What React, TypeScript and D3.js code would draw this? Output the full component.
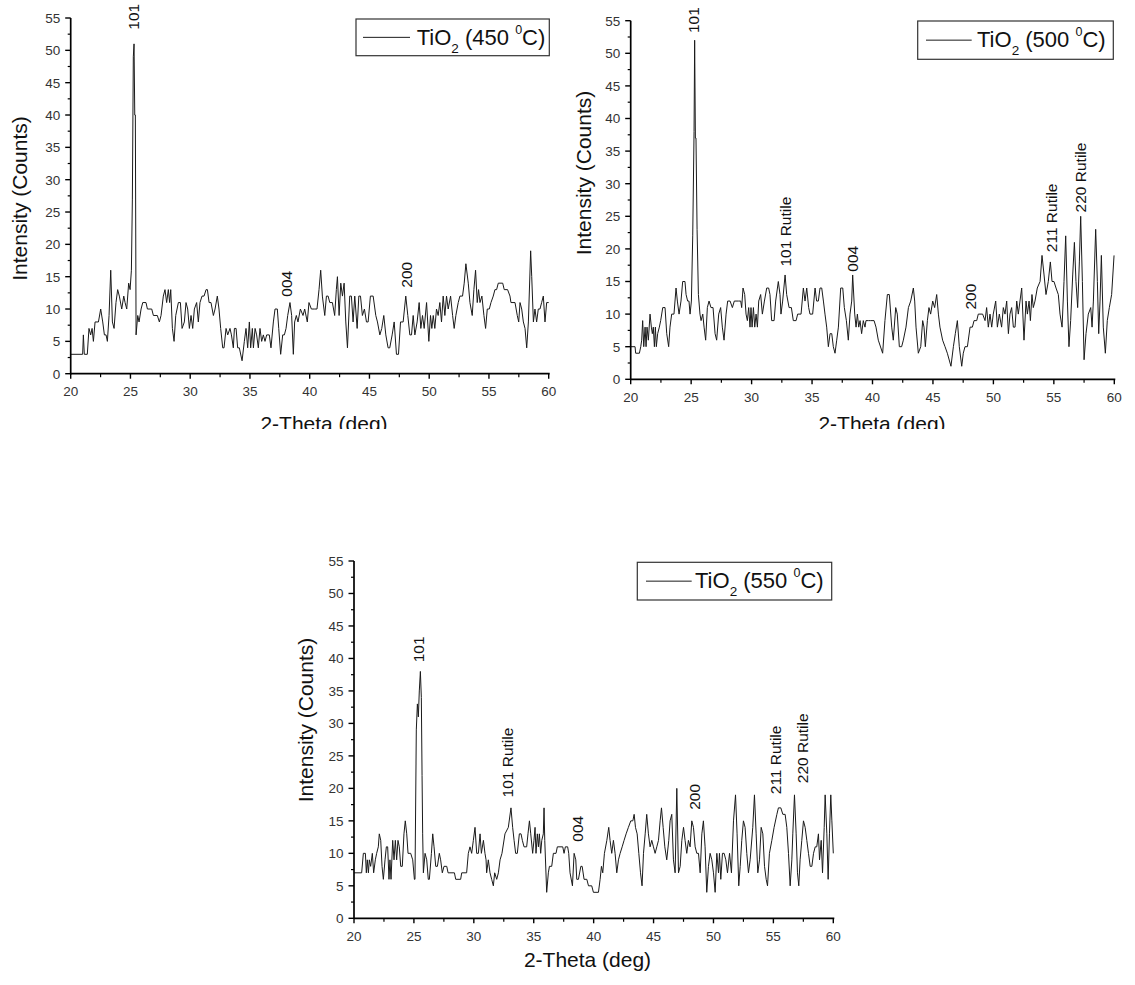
import React from "react";
import * as d3 from "d3";

// ---------- DATA ----------
const xTicks = [20, 25, 30, 35, 40, 45, 50, 55, 60];
const yTicks = [0, 5, 10, 15, 20, 25, 30, 35, 40, 45, 50, 55];

// Panel 1: TiO2 450 °C
const theta450 = [20.00,21.00,21.06,21.14,21.39,21.53,21.67,21.79,21.90,22.04,22.32,22.51,22.68,22.82,22.96,23.07,23.21,23.35,23.49,23.63,23.79,23.93,24.07,24.27,24.44,24.55,24.69,24.85,24.97,25.08,25.16,25.24,25.30,25.36,25.41,25.47,25.61,25.72,25.89,26.03,26.30,26.42,26.78,26.92,27.25,27.42,27.56,27.75,27.89,28.03,28.17,28.28,28.37,28.51,28.65,28.79,29.01,29.18,29.32,29.51,29.65,29.79,29.93,30.07,30.21,30.35,30.54,30.68,30.82,30.99,31.16,31.33,31.44,31.58,31.74,31.94,32.08,32.27,32.41,32.55,32.72,32.83,33.00,33.14,33.33,33.45,33.61,33.70,33.84,33.97,34.11,34.34,34.53,34.67,34.81,34.95,35.06,35.20,35.29,35.43,35.56,35.70,35.84,35.98,36.12,36.26,36.40,36.62,36.76,36.96,37.10,37.29,37.41,37.57,37.74,37.88,38.02,38.16,38.35,38.49,38.63,38.74,38.88,39.02,39.22,39.44,39.58,39.80,39.94,40.14,40.42,40.61,40.78,40.92,41.06,41.26,41.40,41.54,41.68,41.90,42.09,42.23,42.32,42.46,42.60,42.74,42.88,43.02,43.16,43.35,43.49,43.63,43.77,43.97,44.11,44.25,44.41,44.58,44.75,44.89,45.08,45.31,45.53,45.67,45.87,46.03,46.20,46.37,46.56,46.70,46.90,47.07,47.26,47.43,47.60,47.82,48.04,48.21,48.38,48.52,48.66,48.80,48.99,49.16,49.30,49.44,49.58,49.78,49.97,50.11,50.22,50.34,50.47,50.61,50.75,50.89,51.03,51.17,51.31,51.45,51.59,51.79,51.96,52.09,52.23,52.43,52.57,52.79,52.93,53.07,53.27,53.41,53.60,53.74,53.88,54.02,54.13,54.25,54.41,54.58,54.72,54.86,55.03,55.17,55.36,55.50,55.64,55.78,56.15,56.28,56.56,56.76,56.84,57.18,57.37,57.49,57.60,57.74,57.88,58.02,58.16,58.30,58.49,58.58,58.72,58.85,58.99,59.13,59.27,59.41,59.55,59.69,59.83,60.00];
const counts450 = [3,3,6,3,3,7,6,7,5,8,8,10,8,6,6,5,9,16,8,7,11,13,12,10,12,11,10,14,13,16,27,49,51,40,40,6,9,8,10,11,11,10,10,9,9,8,9,12,13,11,13,11,13,7,5,9,11,11,7,8,11,10,7,9,7,10,11,8,11,12,12,13,13,11,11,9,10,12,10,7,4,4,7,6,7,6,4,7,7,4,4,2,5,7,4,8,4,7,4,7,6,4,7,5,6,5,6,6,4,8,10,10,7,3,6,6,7,9,11,9,3,8,9,8,10,9,10,8,11,10,10,10,13,16,12,9,12,12,11,11,9,13,15,9,14,12,14,8,4,12,12,8,12,7,12,12,9,10,8,8,12,12,9,8,6,7,9,6,4,4,6,8,3,3,8,8,12,9,6,6,9,6,8,11,7,9,7,11,5,9,7,9,7,10,9,11,8,12,9,12,10,12,9,7,9,11,12,12,14,17,14,11,9,13,16,11,13,11,12,9,7,10,10,11,12,13,13,14,14,13,13,12,11,11,9,8,11,10,8,7,4,8,19,15,8,10,8,10,10,11,12,8,11,11];

// Panel 2: TiO2 500 °C
const theta500 = [20.00,20.36,20.41,20.72,20.83,20.91,20.99,21.08,21.19,21.27,21.35,21.46,21.60,21.71,21.79,21.87,21.96,22.04,22.12,22.23,22.37,22.48,22.65,22.84,22.98,23.14,23.25,23.39,23.58,23.75,23.86,24.00,24.16,24.30,24.49,24.58,24.71,24.82,24.91,25.02,25.13,25.24,25.29,25.35,25.40,25.49,25.60,25.73,25.82,25.96,26.07,26.20,26.34,26.48,26.64,26.81,26.98,27.11,27.28,27.44,27.58,27.72,27.89,28.02,28.22,28.41,28.57,28.71,28.91,29.10,29.18,29.29,29.43,29.54,29.65,29.76,29.87,29.95,30.04,30.15,30.26,30.37,30.48,30.59,30.75,30.89,31.06,31.25,31.41,31.52,31.66,31.86,31.99,32.21,32.35,32.43,32.57,32.77,32.90,33.10,33.29,33.45,33.68,33.81,34.09,34.28,34.42,34.56,34.72,34.83,35.05,35.25,35.38,35.52,35.66,35.80,35.94,36.07,36.21,36.35,36.49,36.63,36.76,36.90,37.04,37.18,37.37,37.54,37.67,37.84,38.00,38.14,38.28,38.36,38.53,38.64,38.75,38.86,38.97,39.10,39.24,39.38,39.46,39.66,39.85,40.13,40.29,40.48,40.84,41.03,41.23,41.39,41.59,41.72,41.92,42.05,42.22,42.41,42.55,42.77,42.97,43.16,43.38,43.49,43.60,43.79,43.99,44.15,44.26,44.37,44.54,44.67,44.81,44.98,45.14,45.31,45.45,45.58,45.80,46.00,46.19,46.49,46.69,46.85,47.02,47.18,47.38,47.51,47.65,47.85,48.07,48.26,48.40,48.62,48.75,49.11,49.31,49.44,49.58,49.72,49.86,49.99,50.19,50.33,50.49,50.68,50.82,50.96,51.10,51.24,51.37,51.51,51.65,51.79,51.93,52.06,52.20,52.34,52.53,52.70,52.81,52.95,53.06,53.19,53.30,53.44,53.63,53.86,54.02,54.19,54.35,54.54,54.71,54.85,55.01,55.18,55.37,55.51,55.68,55.84,55.98,56.12,56.25,56.39,56.56,56.70,56.83,56.97,57.11,57.22,57.36,57.50,57.66,57.85,58.05,58.16,58.27,58.46,58.60,58.71,58.82,58.93,59.09,59.26,59.42,59.59,59.78,59.98];
const counts500 = [5,5,4,4,5,6,9,5,8,5,8,6,10,8,7,8,5,8,5,7,8,9,11,11,7,5,8,10,10,14,12,10,12,15,15,13,12,12,10,12,22,38,52,37,37,23,13,10,9,10,8,6,11,12,11,11,7,6,10,11,8,6,10,12,12,11,12,12,12,12,11,14,13,10,9,11,8,11,8,11,8,10,8,12,13,10,12,14,14,13,9,9,12,15,13,10,12,16,13,11,11,9,9,10,10,14,12,14,11,10,10,14,12,12,14,14,12,10,8,5,7,7,5,4,6,8,14,14,11,9,6,10,12,16,10,8,10,8,9,7,9,8,9,9,9,9,8,6,4,9,13,13,8,6,11,10,5,5,6,8,11,12,14,12,8,4,5,9,8,5,9,11,10,12,11,13,10,8,6,5,4,2,5,7,9,5,2,4,5,5,8,8,9,9,10,10,9,11,8,10,8,10,12,8,10,8,11,10,12,7,10,11,8,8,12,10,12,14,6,12,10,12,9,13,11,12,14,15,19,16,13,15,18,15,15,14,13,10,8,15,22,12,5,9,16,21,15,11,18,25,15,3,7,10,11,8,12,23,15,7,12,19,8,4,9,11,13,19];

// Panel 3: TiO2 550 °C
const theta550 = [20.00,20.64,20.78,20.95,21.03,21.11,21.20,21.28,21.39,21.53,21.64,21.78,21.89,22.03,22.11,22.23,22.34,22.45,22.59,22.70,22.81,22.92,23.00,23.09,23.23,23.34,23.45,23.56,23.67,23.78,23.90,24.03,24.17,24.28,24.40,24.51,24.73,24.90,25.04,25.09,25.20,25.29,25.37,25.45,25.54,25.62,25.68,25.73,25.79,25.93,26.07,26.20,26.29,26.46,26.57,26.68,26.82,26.96,27.12,27.23,27.37,27.51,27.74,27.85,28.38,28.49,28.90,28.99,29.40,29.54,29.68,29.82,29.96,30.10,30.24,30.38,30.52,30.63,30.80,30.93,31.02,31.07,31.21,31.35,31.49,31.63,31.74,31.91,32.05,32.19,32.35,32.60,32.88,33.10,33.24,33.36,33.49,33.63,33.80,33.94,34.05,34.19,34.41,34.52,34.64,34.75,34.91,35.02,35.11,35.19,35.30,35.39,35.47,35.58,35.67,35.80,35.86,35.92,36.08,36.22,36.31,36.50,36.64,36.86,36.97,37.42,37.53,37.64,37.83,37.92,38.03,38.23,38.37,38.51,38.59,38.73,38.93,39.04,39.20,39.43,39.57,39.84,39.98,40.40,40.54,40.65,40.76,40.90,41.10,41.26,41.37,41.51,41.65,41.79,41.93,42.07,42.21,42.38,42.54,42.71,42.90,43.10,43.27,43.38,43.49,43.63,43.77,43.91,44.04,44.16,44.30,44.43,44.57,44.71,44.85,44.99,45.13,45.27,45.41,45.55,45.66,45.80,45.94,46.10,46.27,46.38,46.52,46.66,46.80,46.94,47.08,47.22,47.36,47.50,47.63,47.77,47.91,48.05,48.19,48.33,48.47,48.61,48.75,48.89,49.03,49.16,49.30,49.44,49.58,49.72,49.86,50.00,50.14,50.28,50.42,50.50,50.61,50.75,50.89,51.03,51.17,51.34,51.50,51.67,51.84,51.97,52.11,52.23,52.36,52.50,52.64,52.78,52.92,53.06,53.28,53.42,53.56,53.70,53.84,53.98,54.12,54.26,54.40,54.51,54.67,54.87,55.06,55.29,55.42,55.62,55.79,55.98,56.12,56.26,56.40,56.54,56.62,56.76,56.90,57.01,57.12,57.23,57.37,57.51,57.65,57.79,57.93,58.07,58.21,58.35,58.49,58.62,58.76,58.85,58.99,59.10,59.24,59.32,59.46,59.57,59.68,59.79,59.88,60.00];
const counts550 = [7,7,10,10,7,9,7,9,8,10,7,9,10,11,13,12,8,6,9,11,11,6,9,6,12,9,12,9,12,11,8,8,13,15,13,10,10,9,6,6,29,33,31,35,38,34,22,13,7,10,9,6,6,10,13,11,8,8,10,9,7,8,8,7,7,6,6,7,7,10,11,10,12,14,10,10,13,10,12,10,9,7,9,7,6,5,7,6,7,9,10,13,14,17,14,12,10,10,13,13,12,11,11,13,15,13,10,12,14,10,13,11,13,10,12,13,17,12,4,7,8,8,10,10,11,11,10,11,11,10,7,5,10,9,6,6,8,8,6,6,5,5,4,4,6,8,7,10,12,14,12,10,12,10,7,9,10,11,12,13,14,15,15,16,14,13,10,7,5,10,13,16,13,11,12,11,10,11,12,15,17,14,11,9,12,15,16,9,7,20,7,8,12,14,12,10,12,11,15,14,11,10,10,7,13,15,11,4,8,10,9,7,4,10,7,10,6,10,10,9,7,10,7,15,19,13,5,8,12,15,14,10,7,9,14,19,13,7,9,14,13,8,6,5,10,12,14,16,17,17,16,16,14,10,5,9,13,19,13,7,5,9,12,15,14,12,10,8,8,10,11,11,13,9,12,7,14,19,13,6,13,19,15,10];

// Peak annotations: [label, two-theta, intensity where the text starts]
const peaks450: [string, number, number][] = [["101", 25.3, 53.2], ["004", 38.1, 11.9], ["200", 48.08, 13.3]];
const peaks500: [string, number, number][] = [["101", 25.21, 53.1], ["101 Rutile", 32.85, 17.3], ["004", 38.35, 16.5], ["200", 48.15, 10.7], ["211 Rutile", 54.82, 19.5], ["220 Rutile", 57.25, 25.6]];
const peaks550: [string, number, number][] = [["101", 25.41, 39.4], ["101 Rutile", 32.8, 18.6], ["004", 38.66, 11.8], ["200", 48.42, 16.7], ["211 Rutile", 55.14, 19.1], ["220 Rutile", 57.45, 20.8]];

const temps = ["450", "500", "550"];
const xTitle = "2-Theta (deg)";
const yTitle = "Intensity (Counts)";

// ---------- COMPONENT ----------
const FONT = "'Liberation Sans', Arial, sans-serif";

type PanelProps = {
  theta: number[];
  counts: number[];
  peaks: [string, number, number][];
  temp: string;
  box: { x0: number; x1: number; y0: number; y1: number };
  legend: { x: number; y: number; w: number; h: number; lx0: number; lx1: number; tx: number };
  yTitlePos: { x: number; y: number };
  xTitlePos: { x: number; y: number };
  clipY?: number;
  id: string;
};

function Panel(p: PanelProps) {
  const x = d3.scaleLinear().domain([20, 60]).range([p.box.x0, p.box.x1]);
  const y = d3.scaleLinear().domain([0, 55]).range([p.box.y0, p.box.y1]);
  const pts = p.theta.map((t, i) => [t, p.counts[i]] as [number, number]);
  const line = d3.line<[number, number]>().x((d) => x(d[0])).y((d) => y(d[1]));
  const minorX = d3.range(22.5, 60, 5);
  const minorY = d3.range(2.5, 55, 5);
  const ly = p.legend.y + p.legend.h / 2;
  const tb = p.legend.y + 26;
  return (
    <g>
      {p.clipY !== undefined && (
        <defs>
          <clipPath id={p.id}>
            <rect x={0} y={0} width={1135} height={p.clipY} />
          </clipPath>
        </defs>
      )}
      {/* data */}
      <path d={line(pts) || ""} fill="none" stroke="#1a1a1a" strokeWidth={1} strokeLinejoin="miter" />
      {/* axes */}
      <line x1={p.box.x0} x2={p.box.x1 + 1} y1={p.box.y0} y2={p.box.y0} stroke="#000" strokeWidth={1.7} />
      <line x1={p.box.x0} x2={p.box.x0} y1={p.box.y0 + 0.8} y2={p.box.y1} stroke="#000" strokeWidth={1.7} />
      {xTicks.map((t) => (
        <g key={"xt" + t}>
          <line x1={x(t)} x2={x(t)} y1={p.box.y0} y2={p.box.y0 + 5} stroke="#000" strokeWidth={1.4} />
          <text x={x(t)} y={p.box.y0 + 22.5} textAnchor="middle" fontSize={13.5} fontFamily={FONT} fill="#333">{t}</text>
        </g>
      ))}
      {minorX.map((t) => (
        <line key={"xm" + t} x1={x(t)} x2={x(t)} y1={p.box.y0} y2={p.box.y0 + 3.5} stroke="#000" strokeWidth={1.2} />
      ))}
      {yTicks.map((v) => (
        <g key={"yt" + v}>
          <line x1={p.box.x0 - 5.5} x2={p.box.x0} y1={y(v)} y2={y(v)} stroke="#000" strokeWidth={1.4} />
          <text x={p.box.x0 - 10.5} y={y(v)} dy="0.36em" textAnchor="end" fontSize={13.5} fontFamily={FONT} fill="#333">{v}</text>
        </g>
      ))}
      {minorY.map((v) => (
        <line key={"ym" + v} x1={p.box.x0 - 3} x2={p.box.x0} y1={y(v)} y2={y(v)} stroke="#000" strokeWidth={1.2} />
      ))}
      {/* titles */}
      <text transform={`translate(${p.yTitlePos.x},${p.yTitlePos.y}) rotate(-90)`} textAnchor="middle" fontSize={21} fontFamily={FONT} fill="#111">{yTitle}</text>
      <g clipPath={p.clipY !== undefined ? `url(#${p.id})` : undefined}>
        <text x={p.xTitlePos.x} y={p.xTitlePos.y} textAnchor="middle" fontSize={21} fontFamily={FONT} fill="#111">{xTitle}</text>
      </g>
      {/* peak labels */}
      {p.peaks.map(([lab, t, v]) => (
        <text key={lab + t} transform={`translate(${x(t)},${y(v)}) rotate(-90)`} dy="0.35em" fontSize={15.5} fontFamily={FONT} fill="#111">{lab}</text>
      ))}
      {/* legend */}
      <rect x={p.legend.x} y={p.legend.y} width={p.legend.w} height={p.legend.h} fill="#fff" stroke="#333" strokeWidth={1.2} />
      <line x1={p.legend.lx0} x2={p.legend.lx1} y1={ly} y2={ly} stroke="#1a1a1a" strokeWidth={1} />
      <text x={p.legend.tx} y={tb} fontSize={22} fontFamily={FONT} fill="#111">
        TiO<tspan fontSize={13.5} dy={8}>2</tspan>
        <tspan dy={-8}> ({p.temp} </tspan>
        <tspan fontSize={12.5} dy={-11}>0</tspan>
        <tspan dy={11}>C)</tspan>
      </text>
    </g>
  );
}

export default function App() {
  return (
    <div style={{ position: "absolute", left: 0, top: 0 }}>
      <svg width={1135} height={985} style={{ display: "block", background: "#fff" }}>
        <Panel
          id="c1"
          theta={theta450}
          counts={counts450}
          peaks={peaks450}
          temp={temps[0]}
          box={{ x0: 70.7, x1: 548.7, y0: 373.7, y1: 18 }}
          legend={{ x: 356, y: 19, w: 193.3, h: 36.7, lx0: 363, lx1: 410, tx: 416.7 }}
          yTitlePos={{ x: 26.7, y: 198.5 }}
          xTitlePos={{ x: 324, y: 431 }}
          clipY={429}
        />
        <Panel
          id="c2"
          theta={theta500}
          counts={counts500}
          peaks={peaks500}
          temp={temps[1]}
          box={{ x0: 630.7, x1: 1114.3, y0: 379.3, y1: 20.7 }}
          legend={{ x: 917.7, y: 21, w: 195.6, h: 38.3, lx0: 926, lx1: 971.7, tx: 977 }}
          yTitlePos={{ x: 591, y: 173 }}
          xTitlePos={{ x: 882, y: 431 }}
          clipY={429}
        />
        <Panel
          id="c3"
          theta={theta550}
          counts={counts550}
          peaks={peaks550}
          temp={temps[2]}
          box={{ x0: 354, x1: 833.3, y0: 918.3, y1: 561 }}
          legend={{ x: 637.3, y: 562.3, w: 194.4, h: 37.7, lx0: 646, lx1: 691.7, tx: 695 }}
          yTitlePos={{ x: 313.3, y: 720 }}
          xTitlePos={{ x: 587.5, y: 966.7 }}
        />
      </svg>
    </div>
  );
}
